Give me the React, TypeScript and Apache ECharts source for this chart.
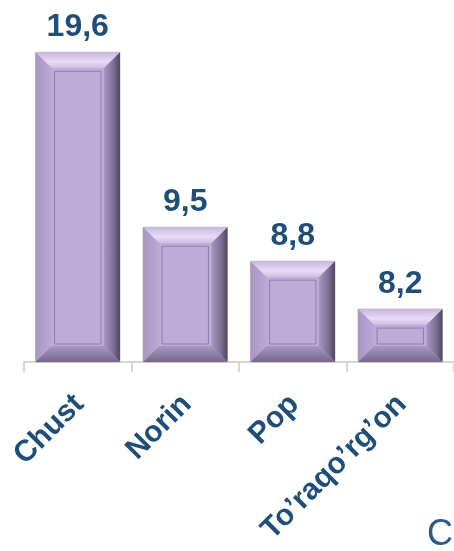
import React, { useEffect, useRef } from "react";
import * as echarts from "echarts";

const categories = ["Chust", "Norin", "Pop", "To\u2019raqo\u2019rg\u2019on"];
// values printed above the bars
const values = [19.6, 9.5, 8.8, 8.2];
// bar heights as they appear in the picture (axis 0..20)
const drawnHeights = [19.6, 8.53, 6.38, 3.35];
const cornerLetter = "C";

const DARK_BLUE = "#1f4e79";
const FONT = "'Liberation Sans', Arial, sans-serif";

export default function App() {
  const ref = useRef<HTMLDivElement>(null);
  useEffect(() => {
    if (!ref.current) return;
    const chart = echarts.init(ref.current, undefined, { renderer: "svg" });
    const LG = echarts.graphic.LinearGradient;
    const renderItem = (params: any, api: any) => {
      const idx = api.value(0);
      const h = api.value(1);
      const val = api.value(2);
      const top = api.coord([idx, h]);
      const base = api.coord([idx, 0]);
      const bw = api.size([1, 0])[0] * 0.785;
      const x = top[0] - bw / 2;
      const y = top[1];
      const w = bw;
      const H = base[1] - top[1];
      const b = 16;
      const ins = 19;
      return {
        type: "group",
        children: [
          {
            type: "rect",
            shape: { x, y, width: w, height: H },
            style: { fill: "#bdacd7", stroke: "#c2bec8", lineWidth: 1 },
          },
          {
            type: "polygon",
            shape: { points: [[x, y], [x + w, y], [x + w - b, y + b], [x + b, y + b]] },
            style: {
              fill: new LG(0, 0, 0, 1, [
                { offset: 0, color: "#c6b8de" },
                { offset: 0.6, color: "#e6ddf5" },
                { offset: 1, color: "#cbbde2" },
              ]),
            },
          },
          {
            type: "polygon",
            shape: { points: [[x, y], [x + b, y + b], [x + b, y + H - b], [x, y + H]] },
            style: {
              fill: new LG(0, 0, 1, 0, [
                { offset: 0, color: "#a895c4" },
                { offset: 1, color: "#bba9d5" },
              ]),
            },
          },
          {
            type: "polygon",
            shape: { points: [[x + w, y], [x + w, y + H], [x + w - b, y + H - b], [x + w - b, y + b]] },
            style: {
              fill: new LG(0, 0, 1, 0, [
                { offset: 0, color: "#a796c1" },
                { offset: 0.6, color: "#7d6f95" },
                { offset: 1, color: "#4f4559" },
              ]),
            },
          },
          {
            type: "polygon",
            shape: { points: [[x, y + H], [x + w, y + H], [x + w - b, y + H - b], [x + b, y + H - b]] },
            style: {
              fill: new LG(0, 0, 0, 1, [
                { offset: 0, color: "#a898c2" },
                { offset: 1, color: "#75688a" },
              ]),
            },
          },
          {
            type: "rect",
            shape: { x: x + ins, y: y + ins, width: w - 2 * ins, height: Math.max(H - ins - 18, 2) },
            style: { fill: "none", stroke: "#8e7fac", lineWidth: 1 },
          },
          {
            type: "text",
            style: {
              x: top[0],
              y: y - 27,
              text: String(val).replace(".", ","),
              fill: DARK_BLUE,
              font: `bold 32px ${FONT}`,
              textAlign: "center",
              textVerticalAlign: "middle",
            },
          },
        ],
      };
    };

    chart.setOption({
      animation: false,
      grid: { left: 24, width: 432, top: 46, bottom: 189, containLabel: false },
      xAxis: {
        type: "category",
        data: categories,
        boundaryGap: true,
        axisLine: { lineStyle: { color: "#d6d6d6", width: 2 } },
        axisTick: { show: true, length: 10, lineStyle: { color: "#d6d6d6", width: 2 } },
        axisLabel: {
          rotate: 45,
          margin: 36,
          interval: 0,
          color: DARK_BLUE,
          fontSize: 30,
          fontWeight: "bold",
          fontFamily: FONT,
        },
      },
      yAxis: { type: "value", min: 0, max: 20, show: false, splitLine: { show: false } },
      series: [
        {
          type: "custom",
          renderItem,
          data: categories.map((c, i) => [i, drawnHeights[i], values[i]]),
          encode: { x: 0, y: 1 },
        },
      ],
      graphic: [
        {
          type: "text",
          left: 427,
          top: 514,
          style: { text: cornerLetter, fill: "#2b5a88", font: `36px ${FONT}` },
        },
      ],
    });
    return () => chart.dispose();
  }, []);
  return <div ref={ref} style={{ position: "fixed", left: 0, top: 0, width: 454, height: 551 }} />;
}
